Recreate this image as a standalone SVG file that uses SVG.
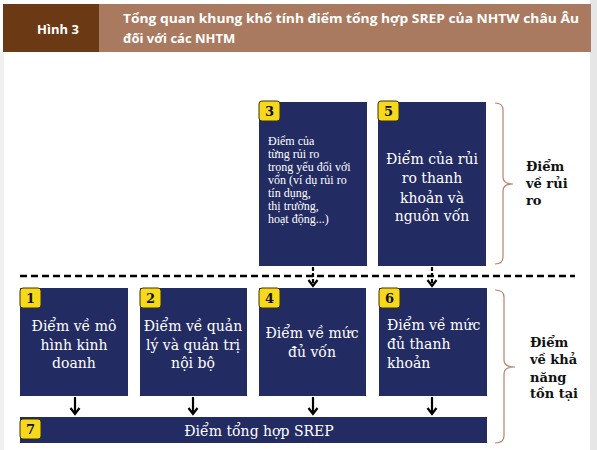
<svg xmlns="http://www.w3.org/2000/svg" width="597" height="450" viewBox="0 0 597 450">
<defs>
<style>
.box{fill:#232b63}
.badge{fill:#f6d91c;stroke:#3d3200;stroke-width:1}
.num{font-family:"DejaVu Serif","Liberation Serif",serif;font-weight:bold;font-size:13px;fill:#111}
.bt{font-family:"DejaVu Serif","Liberation Serif",serif;font-size:14px;fill:#ffffff}
.st{font-family:"Liberation Serif","Times New Roman",serif;font-size:12px;fill:#ffffff}
.lbl{font-family:"DejaVu Serif","Liberation Serif",serif;font-weight:bold;font-size:13px;fill:#111}
.hd{font-family:"Open Sans","Liberation Sans",sans-serif;font-weight:bold;font-size:13px;fill:#ffffff}
.brace{fill:none;stroke:#b5826c;stroke-width:1.2}
.arr{stroke:#000;stroke-width:2.2;fill:none}
.dash{stroke:#000;stroke-width:2.5;stroke-dasharray:7 4;fill:none}
</style>
<marker id="chev" markerWidth="10" markerHeight="12" refX="8" refY="6" orient="auto" markerUnits="userSpaceOnUse" viewBox="0 0 10 12">
<path d="M2,1.5 L8,6 L2,10.5" fill="none" stroke="#000" stroke-width="2.2"/>
</marker>
</defs>
<rect x="0" y="0" width="597" height="450" fill="#ffffff"/>
<rect x="590" y="0" width="7" height="450" fill="#e6e6e6"/>
<rect x="0" y="52" width="4" height="398" fill="#f0f0f0"/>
<g id="header">
<rect x="3" y="4" width="96" height="48" fill="#6b3a14"/>
<rect x="99" y="4" width="492" height="48" fill="#a97a5f"/>
<text x="58" y="34" class="hd" text-anchor="middle">Hình 3</text>
<text x="123" y="23" class="hd" textLength="456" lengthAdjust="spacingAndGlyphs">Tổng quan khung khổ tính điểm tổng hợp SREP của NHTW châu Âu</text>
<text x="123" y="43" class="hd">đối với các NHTM</text>
</g>
<g id="connectors">
<line class="dash" x1="20" y1="276" x2="575" y2="276"/>
<line x1="313" y1="267" x2="313" y2="286" stroke="#000" stroke-width="2.2" stroke-dasharray="4 2" marker-end="url(#chev)"/>
<line x1="432" y1="267" x2="432" y2="286" stroke="#000" stroke-width="2.2" stroke-dasharray="4 2" marker-end="url(#chev)"/>
<line class="arr" x1="75" y1="397" x2="75" y2="414" marker-end="url(#chev)"/>
<line class="arr" x1="193" y1="397" x2="193" y2="414" marker-end="url(#chev)"/>
<line class="arr" x1="313" y1="397" x2="313" y2="414" marker-end="url(#chev)"/>
<line class="arr" x1="432" y1="397" x2="432" y2="414" marker-end="url(#chev)"/>
<path class="brace" d="M495,103 Q503,103 503,110 L503,177 Q503,184 513,184 Q503,184 503,191 L503,257 Q503,264 495,264"/>
<path class="brace" d="M495,290 Q504,290 504,297 L504,360 Q504,367 515,367 Q504,367 504,374 L504,436 Q504,443 495,443"/>
</g>
<g id="node3">
<rect class="box" x="259" y="102" width="108" height="164"/>
<rect class="badge" x="259" y="101" width="21" height="20" rx="3"/>
<text class="num" x="269.5" y="116" text-anchor="middle">3</text>
<text class="st" x="268" y="145">Điểm của</text>
<text class="st" x="268" y="158">từng rủi ro</text>
<text class="st" x="268" y="171">trọng yếu đối với</text>
<text class="st" x="268" y="184">vốn (ví dụ rủi ro</text>
<text class="st" x="268" y="197">tín dụng,</text>
<text class="st" x="268" y="210">thị trường,</text>
<text class="st" x="268" y="223">hoạt động...)</text>
</g>
<g id="node5">
<rect class="box" x="378" y="102" width="108" height="164"/>
<rect class="badge" x="378" y="101" width="21" height="20" rx="3"/>
<text class="num" x="388.5" y="116" text-anchor="middle">5</text>
<text class="bt" x="432" y="164" text-anchor="middle" font-size="15">Điểm của rủi</text>
<text class="bt" x="432" y="183" text-anchor="middle" font-size="15">ro thanh</text>
<text class="bt" x="432" y="203" text-anchor="middle" font-size="15">khoản và</text>
<text class="bt" x="432" y="221" text-anchor="middle" font-size="15">nguồn vốn</text>
</g>
<g id="node1">
<rect class="box" x="20" y="288" width="108" height="108"/>
<rect class="badge" x="20" y="288" width="21" height="20" rx="3"/>
<text class="num" x="30.5" y="303" text-anchor="middle">1</text>
<text class="bt" x="74" y="331" text-anchor="middle">Điểm về mô</text>
<text class="bt" x="74" y="350" text-anchor="middle">hình kinh</text>
<text class="bt" x="74" y="368" text-anchor="middle">doanh</text>
</g>
<g id="node2">
<rect class="box" x="140" y="288" width="107" height="108"/>
<rect class="badge" x="140" y="288" width="21" height="20" rx="3"/>
<text class="num" x="150.5" y="303" text-anchor="middle">2</text>
<text class="bt" x="193" y="331" text-anchor="middle">Điểm về quản</text>
<text class="bt" x="193" y="350" text-anchor="middle">lý và quản trị</text>
<text class="bt" x="193" y="368" text-anchor="middle">nội bộ</text>
</g>
<g id="node4">
<rect class="box" x="259" y="288" width="107" height="108"/>
<rect class="badge" x="259" y="288" width="21" height="20" rx="3"/>
<text class="num" x="269.5" y="303" text-anchor="middle">4</text>
<text class="bt" x="312" y="338" text-anchor="middle">Điểm về mức</text>
<text class="bt" x="312" y="357" text-anchor="middle">đủ vốn</text>
</g>
<g id="node6">
<rect class="box" x="379" y="288" width="108" height="108"/>
<rect class="badge" x="379" y="288" width="21" height="20" rx="3"/>
<text class="num" x="389.5" y="303" text-anchor="middle">6</text>
<text class="bt" x="387" y="330">Điểm về mức</text>
<text class="bt" x="387" y="349">đủ thanh</text>
<text class="bt" x="387" y="368">khoản</text>
</g>
<g id="node7">
<rect class="box" x="20" y="417" width="467" height="26"/>
<rect class="badge" x="20" y="419" width="21" height="20" rx="3"/>
<text class="num" x="30.5" y="434" text-anchor="middle">7</text>
<text class="bt" x="259" y="436" text-anchor="middle" font-size="14.5">Điểm tổng hợp SREP</text>
</g>
<g id="label-risk">
<text class="lbl" x="526" y="171">Điểm</text>
<text class="lbl" x="526" y="188">về rủi</text>
<text class="lbl" x="526" y="205">ro</text>
</g>
<g id="label-viability">
<text class="lbl" x="530" y="347">Điểm</text>
<text class="lbl" x="530" y="364">về khả</text>
<text class="lbl" x="530" y="382">năng</text>
<text class="lbl" x="530" y="398">tồn tại</text>
</g>
</svg>
